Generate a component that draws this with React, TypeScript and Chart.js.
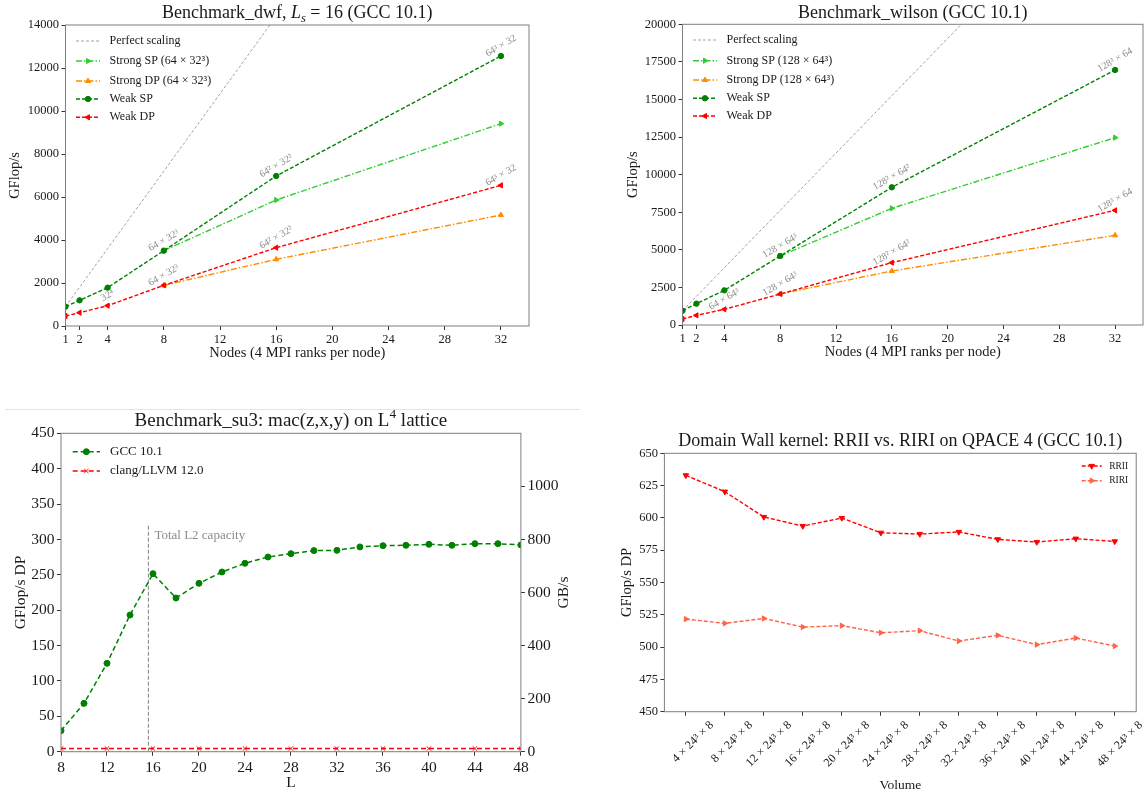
import React, { useEffect, useRef } from 'react';
import { Chart, registerables } from 'chart.js';
import { drawPoint } from 'chart.js/helpers';

Chart.register(...registerables);

const FONT = '"Liberation Serif", "DejaVu Serif", serif';
const INK = '#1a1a1a';
const SPINE = '#7f7f7f';
const NOTE = '#8c8c8c';

// ---------- Benchmark_dwf ----------
const NODES = [1, 2, 4, 8, 16, 32];
const STRONG_NODES = [8, 16, 32];
const NODE_TICKS = [1, 2, 4, 8, 12, 16, 20, 24, 28, 32];
const DWF_Y_TICKS = [0, 2000, 4000, 6000, 8000, 10000, 12000, 14000];
const DWF_PERFECT = [900, 1800, 3600, 7200, 14400, 28800];
const DWF_STRONG_SP = [3504, 5860, 9411];
const DWF_STRONG_DP = [1891, 3101, 5163];
const DWF_WEAK_SP = [899, 1194, 1783, 3504, 6977, 12558];
const DWF_WEAK_DP = [465, 620, 946, 1891, 3643, 6543];
const DWF_SP_LABELS = ['', '', '', '64 × 32³', '64² × 32²', '64³ × 32'];
const DWF_DP_LABELS = ['', '', '32⁴', '64 × 32³', '64² × 32²', '64³ × 32'];

// ---------- Benchmark_wilson ----------
const WIL_Y_TICKS = [0, 2500, 5000, 7500, 10000, 12500, 15000, 17500, 20000];
const WIL_PERFECT = [953, 1906, 3812, 7624, 15248, 30496];
const WIL_STRONG_SP = [4590, 7761, 12461];
const WIL_STRONG_DP = [2062, 3592, 5965];
const WIL_WEAK_SP = [953, 1419, 2306, 4590, 9157, 16962];
const WIL_WEAK_DP = [399, 643, 1042, 2062, 4146, 7627];
const WIL_SP_LABELS = ['', '', '', '128 × 64³', '128² × 64²', '128³ × 64'];
const WIL_DP_LABELS = ['', '', '64 × 64³', '128 × 64³', '128² × 64²', '128³ × 64'];

// ---------- Benchmark_su3 ----------
const SU3_L = [8, 10, 12, 14, 16, 18, 20, 22, 24, 26, 28, 30, 32, 34, 36, 38, 40, 42, 44, 46, 48];
const SU3_GCC = [29.7, 68.3, 124.9, 193.2, 251.6, 217.2, 238.0, 254.0, 266.3, 275.2, 279.9, 284.2, 284.6, 289.4, 291.2, 291.7, 293.1, 291.7, 294.0, 294.0, 292.2];
const SU3_CLANG_L = [8, 12, 16, 20, 24, 28, 32, 36, 40, 44, 48];
const SU3_CLANG = [4.5, 4.5, 4.5, 4.5, 4.5, 4.5, 4.5, 4.5, 4.5, 4.5, 4.5];
const SU3_X_TICKS = [8, 12, 16, 20, 24, 28, 32, 36, 40, 44, 48];
const SU3_Y_TICKS = [0, 50, 100, 150, 200, 250, 300, 350, 400, 450];
const SU3_GB_TICKS = [0, 200, 400, 600, 800, 1000];
const SU3_GB_MAX = 1200;
const L2_CAPACITY_L = 15.6;
const L2_LINE = [0, 320];

// ---------- Domain Wall kernel ----------
const DW_VOLUMES = ['4 × 24³ × 8', '8 × 24³ × 8', '12 × 24³ × 8', '16 × 24³ × 8', '20 × 24³ × 8', '24 × 24³ × 8', '28 × 24³ × 8', '32 × 24³ × 8', '36 × 24³ × 8', '40 × 24³ × 8', '44 × 24³ × 8', '48 × 24³ × 8'];
const DW_RRII = [632.9, 620.3, 600.7, 593.7, 599.9, 588.5, 587.5, 589.1, 583.4, 581.3, 583.9, 581.8];
const DW_RIRI = [521.7, 518.4, 522.2, 515.5, 516.6, 511.1, 512.7, 504.7, 509.1, 501.9, 507.0, 500.8];
const DW_Y_TICKS = [450, 475, 500, 525, 550, 575, 600, 625, 650];

type Seg = { t: string; it?: boolean; sub?: boolean; sup?: boolean };

function drawRich(ctx: any, segs: Seg[] | string, x: number, y: number, size: number, opts: any = {}) {
  const list: Seg[] = typeof segs === 'string' ? [{ t: segs }] : segs;
  ctx.save();
  ctx.translate(x, y);
  if (opts.rot) ctx.rotate(opts.rot);
  ctx.fillStyle = opts.color || INK;
  ctx.textBaseline = 'middle';
  ctx.textAlign = 'left';
  const fonts = list.map((s) => `${s.it ? 'italic ' : ''}${s.sub || s.sup ? size * 0.7 : size}px ${FONT}`);
  const widths = list.map((s, i) => {
    ctx.font = fonts[i];
    return ctx.measureText(s.t).width;
  });
  const total = widths.reduce((a, b) => a + b, 0);
  let cx = opts.align === 'left' ? 0 : -total / 2;
  list.forEach((s, i) => {
    ctx.font = fonts[i];
    const dy = s.sub ? size * 0.28 : s.sup ? -size * 0.36 : 0;
    ctx.fillText(s.t, cx, dy);
    cx += widths[i];
  });
  ctx.restore();
}

function drawLegend(chart: any, indices: number[], x0: number, x1: number, xText: number, ys: number[], size: number) {
  const ctx = chart.ctx;
  indices.forEach((di, k) => {
    const d: any = chart.data.datasets[di];
    const y = ys[k];
    ctx.save();
    ctx.strokeStyle = d.borderColor;
    ctx.lineWidth = d.borderWidth;
    ctx.setLineDash(d.borderDash || []);
    ctx.beginPath();
    ctx.moveTo(x0, y);
    ctx.lineTo(x1, y);
    ctx.stroke();
    ctx.setLineDash([]);
    if (d.pointRadius > 0) {
      ctx.fillStyle = d.pointBackgroundColor;
      ctx.strokeStyle = d.pointBorderColor;
      ctx.lineWidth = d.pointBorderWidth;
      drawPoint(ctx, { pointStyle: d.pointStyle, rotation: d.pointRotation, radius: d.pointRadius, borderWidth: d.pointBorderWidth } as any, (x0 + x1) / 2, y);
    }
    ctx.restore();
    drawRich(ctx, d.label, xText, y, size, { align: 'left' });
  });
}

function drawBox(chart: any) {
  const { ctx, chartArea: a } = chart;
  ctx.save();
  ctx.strokeStyle = SPINE;
  ctx.lineWidth = 1;
  ctx.strokeRect(a.left, a.top, a.right - a.left, a.bottom - a.top);
  ctx.restore();
}

function drawPointLabels(chart: any, di: number, labels: string[], size: number) {
  const d: any = chart.data.datasets[di];
  const xs = chart.scales.x;
  const ys = chart.scales.y;
  labels.forEach((t, i) => {
    if (!t) return;
    const px = xs.getPixelForValue(d.data[i].x);
    const py = ys.getPixelForValue(d.data[i].y);
    drawRich(chart.ctx, t, px, py - 10, size, { rot: -Math.PI / 6, color: NOTE });
  });
}

function ds(label: string, xs: number[], ys: number[], color: string, dash: number[], width: number, style: any, rotation: number, radius: number, order: number) {
  return {
    label,
    data: xs.map((x, i) => ({ x, y: ys[i] })),
    borderColor: color,
    backgroundColor: color,
    borderWidth: width,
    borderDash: dash,
    pointStyle: style || 'circle',
    pointRadius: style ? radius : 0,
    pointRotation: rotation,
    pointBorderWidth: 1,
    pointBackgroundColor: color,
    pointBorderColor: color,
    tension: 0,
    fill: false,
    order,
  };
}

function axis(o: any) {
  return {
    type: 'linear',
    position: o.position,
    min: o.min,
    max: o.max,
    afterBuildTicks: (s: any) => {
      s.ticks = o.ticks.map((v: number) => ({ value: v }));
    },
    afterFit: (s: any) => {
      if (o.horizontal) s.height = o.size;
      else s.width = o.size;
    },
    grid: { display: true, drawOnChartArea: false, drawTicks: true, tickLength: 4, tickColor: '#333333', tickWidth: 1 },
    border: { display: false },
    ticks: {
      autoSkip: false,
      font: { family: FONT, size: o.fontSize },
      color: INK,
      padding: o.padding ?? 2.5,
      maxRotation: o.rotation ?? 0,
      minRotation: o.rotation ?? 0,
      labelOffset: o.labelOffset ?? 0,
      callback: (v: any) => (o.fmt ? o.fmt(v) : String(v)),
    },
  };
}

function baseOptions(pad: any, scales: any) {
  return {
    responsive: false,
    maintainAspectRatio: false,
    animation: false,
    devicePixelRatio: 1,
    events: [],
    layout: { padding: pad },
    scales,
    plugins: { legend: { display: false }, tooltip: { enabled: false }, title: { display: false } },
  };
}

function scalingConfig(p: any) {
  const datasets = [
    ds('Perfect scaling', NODES, p.perfect, '#8c8c8c', [3, 2], 0.8, false, 0, 0, 5),
    ds(p.strongSP, STRONG_NODES, p.sSP, '#32CD32', [6, 2, 1.5, 2], 1.4, 'triangle', 90, 3, 4),
    ds(p.strongDP, STRONG_NODES, p.sDP, '#FF8C00', [6, 2, 1.5, 2], 1.4, 'triangle', 0, 3, 3),
    ds('Weak SP', NODES, p.wSP, '#008000', [4, 2], 1.4, 'circle', 0, 2.7, 2),
    ds('Weak DP', NODES, p.wDP, '#FF0000', [4, 2], 1.4, 'triangle', -90, 3, 1),
  ];
  return {
    type: 'line',
    data: { datasets },
    options: baseOptions(p.pad, {
      x: axis({ min: 1, max: 34, ticks: NODE_TICKS, horizontal: true, size: 30, fontSize: 12.5 }),
      y: axis({ min: 0, max: p.yMax, ticks: p.yTicks, horizontal: false, size: 60, fontSize: 12.5 }),
    }),
    plugins: [
      {
        id: 'extras',
        afterDraw(chart: any) {
          const ctx = chart.ctx;
          const a = chart.chartArea;
          drawBox(chart);
          drawPointLabels(chart, 3, p.spLabels, 10);
          drawPointLabels(chart, 4, p.dpLabels, 10);
          drawRich(ctx, p.title, (a.left + a.right) / 2, p.titleY, 18);
          drawRich(ctx, 'Nodes (4 MPI ranks per node)', (a.left + a.right) / 2, p.xTitleY, 14.5);
          drawRich(ctx, 'GFlop/s', p.yTitleX, (a.top + a.bottom) / 2, 14.5, { rot: -Math.PI / 2 });
          drawLegend(chart, [0, 1, 2, 3, 4], a.left + 10.5, a.left + 34.5, a.left + 44, p.legendY, 12);
        },
      },
    ],
  };
}

function dwfConfig() {
  return scalingConfig({
    title: [{ t: 'Benchmark_dwf, ' }, { t: 'L', it: true }, { t: 's', it: true, sub: true }, { t: ' = 16 (GCC 10.1)' }],
    perfect: DWF_PERFECT, sSP: DWF_STRONG_SP, sDP: DWF_STRONG_DP, wSP: DWF_WEAK_SP, wDP: DWF_WEAK_DP,
    strongSP: 'Strong SP (64 × 32³)', strongDP: 'Strong DP (64 × 32³)',
    spLabels: DWF_SP_LABELS, dpLabels: DWF_DP_LABELS,
    yMax: 14000, yTicks: DWF_Y_TICKS,
    pad: { left: 5.5, top: 25, right: 45, bottom: 39 },
    titleY: 13.3, xTitleY: 353, yTitleX: 15.5,
    legendY: [41, 61, 81, 99, 117.3],
  });
}

function wilsonConfig() {
  return scalingConfig({
    title: 'Benchmark_wilson (GCC 10.1)',
    perfect: WIL_PERFECT, sSP: WIL_STRONG_SP, sDP: WIL_STRONG_DP, wSP: WIL_WEAK_SP, wDP: WIL_WEAK_DP,
    strongSP: 'Strong SP (128 × 64³)', strongDP: 'Strong DP (128 × 64³)',
    spLabels: WIL_SP_LABELS, dpLabels: WIL_DP_LABELS,
    yMax: 20000, yTicks: WIL_Y_TICKS,
    pad: { left: 48.5, top: 24.3, right: 2.1, bottom: 40 },
    titleY: 13.3, xTitleY: 352.3, yTitleX: 59.6,
    legendY: [40, 60.7, 80, 98.3, 116],
  });
}

function su3Config() {
  const datasets = [
    ds('GCC 10.1', SU3_L, SU3_GCC, '#008000', [5, 3], 1.5, 'circle', 0, 3, 1),
    ds('clang/LLVM 12.0', SU3_CLANG_L, SU3_CLANG, '#FF0000', [5, 3], 1.5, 'crossRot', 0, 3, 2),
    ds('Total L2 capacity', [L2_CAPACITY_L, L2_CAPACITY_L], L2_LINE, '#808080', [4, 2], 1, false, 0, 0, 3),
  ];
  return {
    type: 'line',
    data: { datasets },
    options: baseOptions({ left: 11, top: 33.3, right: 13.1, bottom: 13.3 }, {
      x: axis({ min: 8, max: 48, ticks: SU3_X_TICKS, horizontal: true, size: 30, fontSize: 15.5 }),
      y: axis({ min: 0, max: 450, ticks: SU3_Y_TICKS, horizontal: false, size: 50, fontSize: 15.5 }),
      y2: axis({ min: 0, max: SU3_GB_MAX, ticks: SU3_GB_TICKS, horizontal: false, size: 40, fontSize: 15.5, position: 'right' }),
    }),
    plugins: [
      {
        id: 'extras',
        afterDraw(chart: any) {
          const ctx = chart.ctx;
          const a = chart.chartArea;
          drawBox(chart);
          const lx = chart.scales.x.getPixelForValue(L2_CAPACITY_L);
          const ly = chart.scales.y.getPixelForValue(305);
          drawRich(ctx, 'Total L2 capacity', lx + 6, ly, 13, { align: 'left', color: '#8c8c8c' });
          drawRich(ctx, [{ t: 'Benchmark_su3: mac(z,x,y) on L' }, { t: '4', sup: true }, { t: ' lattice' }], (a.left + a.right) / 2, 21, 19);
          drawRich(ctx, 'L', (a.left + a.right) / 2, 382.7, 15.5);
          drawRich(ctx, 'GFlop/s DP', 21, (a.top + a.bottom) / 2, 15.5, { rot: -Math.PI / 2 });
          drawRich(ctx, 'GB/s', 564, (a.top + a.bottom) / 2, 15.5, { rot: -Math.PI / 2 });
          drawLegend(chart, [0, 1], a.left + 11.7, a.left + 39, a.left + 49, [51.7, 71], 13);
        },
      },
    ],
  };
}

function dwConfig() {
  const idx = DW_VOLUMES.map((_, i) => i);
  const datasets = [
    ds('RRII', idx, DW_RRII, '#FF0000', [4, 2], 1.4, 'triangle', 180, 3.2, 1),
    ds('RIRI', idx, DW_RIRI, '#FF6347', [4, 2], 1.4, 'triangle', 90, 3, 2),
  ];
  return {
    type: 'line',
    data: { datasets },
    options: baseOptions({ left: 40.4, top: 53.3, right: 11.8, bottom: 21.3 }, {
      x: axis({ min: -0.55, max: 11.55, ticks: idx, horizontal: true, size: 62, fontSize: 12, rotation: 45, labelOffset: 26, fmt: (v: number) => DW_VOLUMES[v] }),
      y: axis({ min: 450, max: 650, ticks: DW_Y_TICKS, horizontal: false, size: 50, fontSize: 12.5 }),
    }),
    plugins: [
      {
        id: 'extras',
        afterDraw(chart: any) {
          const ctx = chart.ctx;
          const a = chart.chartArea;
          drawBox(chart);
          drawRich(ctx, 'Domain Wall kernel: RRII vs. RIRI on QPACE 4 (GCC 10.1)', (a.left + a.right) / 2, 41.7, 18);
          drawRich(ctx, 'Volume', (a.left + a.right) / 2, 385.7, 13.5);
          drawRich(ctx, 'GFlop/s DP', 53, (a.top + a.bottom) / 2, 14.5, { rot: -Math.PI / 2 });
          drawLegend(chart, [0, 1], a.right - 54.5, a.right - 34.5, a.right - 27, [66, 80.7], 9.5);
        },
      },
    ],
  };
}

function ChartBox({ left, top, width, height, make }: any) {
  const ref = useRef<HTMLCanvasElement>(null);
  useEffect(() => {
    const chart = new Chart(ref.current as HTMLCanvasElement, make() as any);
    return () => chart.destroy();
  }, []);
  return <canvas ref={ref} width={width} height={height} style={{ position: 'absolute', left, top, width, height }} />;
}

export default function App() {
  return (
    <div style={{ position: 'absolute', left: 0, top: 0, width: 1148, height: 795, background: '#ffffff', overflow: 'hidden' }}>
      <div style={{ position: 'absolute', left: 5, top: 409, width: 575, height: 0, borderTop: '1px solid #e4e4e4' }} />
      <ChartBox left={0} top={0} width={574} height={395} make={dwfConfig} />
      <ChartBox left={574} top={0} width={574} height={395} make={wilsonConfig} />
      <ChartBox left={0} top={400} width={574} height={395} make={su3Config} />
      <ChartBox left={574} top={400} width={574} height={395} make={dwConfig} />
    </div>
  );
}
